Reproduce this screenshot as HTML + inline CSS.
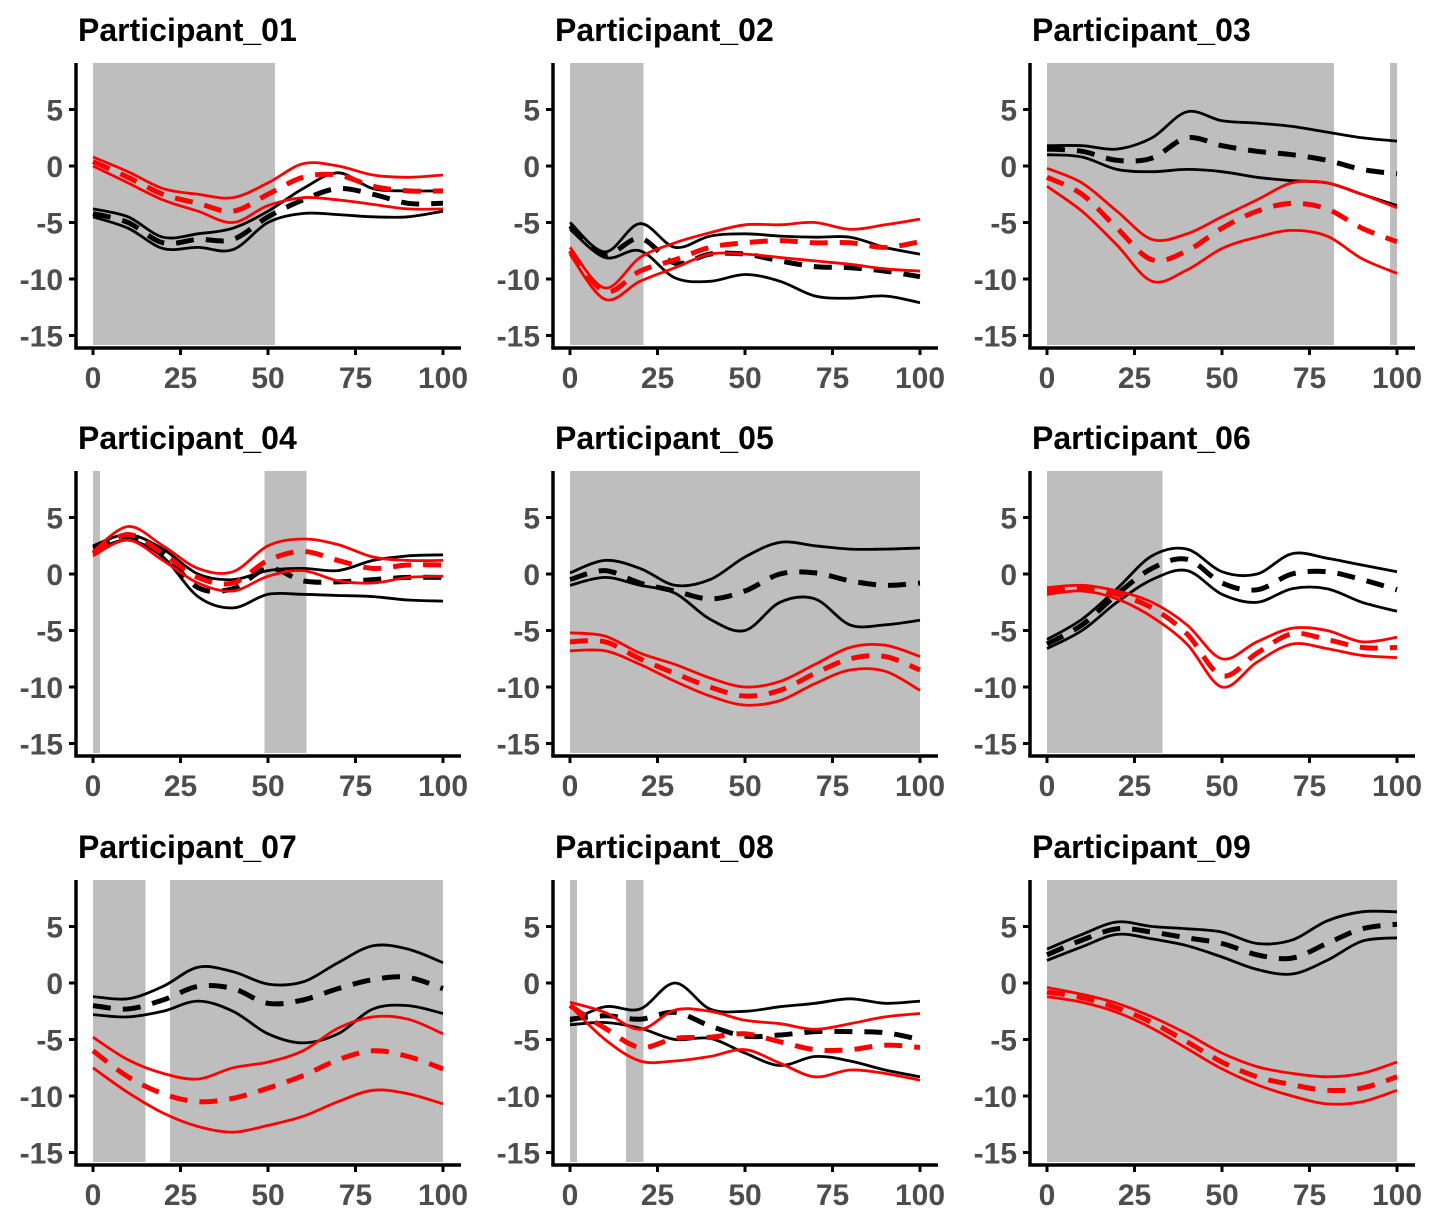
<!DOCTYPE html>
<html><head><meta charset="utf-8">
<style>
html,body{margin:0;padding:0;background:#fff;}
svg text{font-family:"Liberation Sans",Arial,sans-serif;font-weight:bold;}
</style></head>
<body>
<svg id="chart" width="1430" height="1221" viewBox="0 0 1430 1221" xmlns="http://www.w3.org/2000/svg"></svg>
<script>
const xs = [0,10,20,30,40,50,60,70,80,90,100];
const xTicks = [0,25,50,75,100];
const yTicks = [5,0,-5,-10,-15];
const titles = ["Participant_01","Participant_02","Participant_03","Participant_04","Participant_05","Participant_06","Participant_07","Participant_08","Participant_09"];
const shades = [
  [[0,52]],
  [[0,21]],
  [[0,82],[98,100]],
  [[0,2],[49,61]],
  [[0,100]],
  [[0,33]],
  [[0,15],[22,100]],
  [[0,2],[16,21]],
  [[0,100]]
];
const blackUpper = [
  [-3.8,-4.5,-6.3,-6.0,-5.5,-4,-2,-0.6,-2,-2.2,-2.2],
  [-5,-7.6,-5.1,-7.2,-6.2,-6,-6.2,-6.3,-6.3,-7.2,-7.8],
  [1.8,1.8,1.5,2.5,4.8,4,3.8,3.5,3,2.5,2.2],
  [2.5,3.5,2.2,0,-0.5,0.3,0.5,0.3,1.2,1.6,1.7],
  [0.1,1.2,0.5,-1,-0.5,1.5,2.8,2.5,2.2,2.2,2.3],
  [-5.8,-4,-1.3,1.6,2.2,0.2,0,1.8,1.4,0.8,0.2],
  [-1.2,-1.4,-0.3,1.4,1,-0.1,0.1,1.8,3.3,3,1.8],
  [-3.4,-2.1,-2.3,0,-2.3,-2.5,-2.1,-1.8,-1.4,-1.8,-1.6],
  [3,4.3,5.4,5,4.8,4.5,3.5,3.8,5.5,6.3,6.3]
];
const blackMean = [
  [-4.2,-5,-6.8,-6.5,-6.5,-4.5,-3,-2,-2.5,-3.3,-3.3],
  [-5.3,-7.8,-6.4,-8.6,-7.8,-7.8,-8.4,-8.9,-9,-9.3,-9.8],
  [1.5,1.3,0.5,0.7,2.5,1.8,1.3,1,0.5,-0.3,-0.7],
  [2.3,3.3,1.8,-1.2,-1.3,0.5,-0.6,-0.7,-0.5,-0.3,-0.3],
  [-0.5,0.3,-0.8,-1.5,-2.2,-1.5,0,0.1,-0.6,-1,-0.8],
  [-6.2,-4.5,-1.8,0.5,1.3,-0.8,-1.4,0,0.2,-0.5,-1.4],
  [-2,-2.3,-1.5,-0.3,-0.5,-1.8,-1.5,-0.5,0.3,0.5,-0.5],
  [-3.2,-2.9,-3.2,-2.6,-3.8,-4.7,-4.6,-4.3,-4.3,-4.4,-5],
  [2.5,3.8,4.8,4.5,4,3.5,2.5,2.2,3.5,4.8,5.2]
];
const blackLower = [
  [-4.5,-5.5,-7.3,-7.2,-7.4,-5.0,-4.2,-4.3,-4.5,-4.5,-4.0],
  [-5.6,-8.1,-7.5,-9.9,-10.2,-9.6,-10.2,-11.5,-11.7,-11.5,-12.1],
  [1,0.8,-0.3,-0.5,-0.3,-0.5,-1,-1.3,-1.5,-2.5,-3.5],
  [2,3,1.5,-2,-3,-1.8,-1.8,-1.9,-2,-2.3,-2.4],
  [-1,-0.3,-1,-1.7,-4,-5,-2.5,-2.2,-4.5,-4.5,-4.1],
  [-6.6,-5,-2.5,-0.5,0.3,-1.8,-2.5,-1.3,-1.3,-2.5,-3.3],
  [-2.8,-3,-2.5,-1.6,-2.5,-4.5,-5.3,-4.5,-2.3,-2,-2.7],
  [-3.7,-3.5,-4,-5,-4.9,-6.2,-7.3,-6.5,-6.9,-7.7,-8.3],
  [2,3.2,4.3,3.9,3.3,2.3,1.2,0.8,2,3.7,4]
];
const redUpper = [
  [0.8,-0.5,-2,-2.5,-2.8,-1.5,0.2,0,-0.8,-1,-0.8],
  [-7.2,-10.8,-8.1,-6.8,-5.9,-5.2,-5.2,-5,-5.6,-5.2,-4.7],
  [-0.2,-1.5,-4,-6.5,-6,-4.5,-3,-1.5,-1.5,-2.5,-3.7],
  [2,4.2,2.5,0.5,0.2,2.5,3.1,2.6,1.5,1.2,1.2],
  [-5.2,-5.5,-7,-8,-9.2,-10,-9.5,-8,-6.5,-6.3,-7.3],
  [-1.2,-1,-1.5,-2.5,-4.5,-7.5,-6,-4.8,-5,-6,-5.6],
  [-4.8,-6.8,-8,-8.5,-7.5,-7,-6,-4,-3,-3.2,-4.5],
  [-1.7,-2.6,-4.1,-2.4,-2.5,-3.3,-3.6,-4.1,-3.6,-3,-2.7],
  [-0.4,-1,-1.8,-3,-4.5,-6.2,-7.4,-8,-8.3,-8,-7]
];
const redMean = [
  [0.4,-1,-2.5,-3.3,-4,-2.5,-1,-0.8,-1.8,-2.2,-2.2],
  [-7.5,-11.1,-9.3,-8.3,-7.2,-6.8,-6.6,-6.8,-6.8,-7.2,-6.7],
  [-1,-2.5,-5.5,-8.3,-7.5,-5.5,-4,-3.3,-3.8,-5.5,-6.7],
  [1.8,3.5,1.8,-0.3,-0.8,1.2,2,1.2,0.5,0.8,0.8],
  [-6,-6,-7.5,-8.8,-10,-10.8,-10.3,-8.8,-7.5,-7.3,-8.5],
  [-1.5,-1.2,-1.8,-3,-5.3,-9,-7,-5.3,-5.8,-6.5,-6.5],
  [-6,-8.3,-9.8,-10.5,-10.2,-9.3,-8.2,-6.8,-6,-6.5,-7.6],
  [-2,-4,-5.7,-4.9,-4.8,-4.5,-5.2,-5.9,-5.9,-5.5,-5.7],
  [-0.8,-1.3,-2.2,-3.5,-5.2,-7,-8.3,-9,-9.5,-9.3,-8.3]
];
const redLower = [
  [0,-1.5,-3,-4,-5,-3.5,-2.8,-3,-3.4,-3.8,-3.8],
  [-7.8,-11.8,-10.2,-9,-7.8,-7.8,-8.1,-8.4,-8.7,-9.1,-9.3],
  [-1.8,-4,-7,-10.2,-9.2,-7.3,-6.3,-5.7,-6.2,-8.2,-9.5],
  [1.6,3,1.2,-0.8,-1.5,-0.2,0.3,-0.6,-0.8,-0.3,-0.2],
  [-6.8,-6.8,-8,-9.5,-10.8,-11.6,-11.2,-9.7,-8.5,-8.6,-10.3],
  [-1.8,-1.5,-2.2,-3.8,-6.2,-10,-7.8,-6.2,-6.6,-7.2,-7.4],
  [-7.5,-9.7,-11.5,-12.7,-13.2,-12.6,-11.8,-10.5,-9.5,-9.8,-10.7],
  [-2,-5,-6.9,-6.9,-6.5,-5.9,-7.1,-8.3,-7.7,-8,-8.6],
  [-1.2,-1.7,-2.6,-4,-5.8,-7.6,-9,-10,-10.7,-10.5,-9.5]
];

const NS = "http://www.w3.org/2000/svg";
const svg = document.getElementById('chart');
const colX0 = [93,570,1047];
const rowY0 = [166,574,983];
const XS = 3.5, YS = 11.3;
function mk(tag, attrs, parent){
  const e = document.createElementNS(NS, tag);
  for (const k in attrs) e.setAttribute(k, attrs[k]);
  parent.appendChild(e);
  return e;
}
function smoothPath(pts){
  let d = "M" + pts[0][0].toFixed(1) + "," + pts[0][1].toFixed(1);
  for (let i=0;i<pts.length-1;i++){
    const p0 = pts[i-1]||pts[i], p1=pts[i], p2=pts[i+1], p3=pts[i+2]||pts[i+1];
    const c1x = p1[0]+(p2[0]-p0[0])/6, c1y = p1[1]+(p2[1]-p0[1])/6;
    const c2x = p2[0]-(p3[0]-p1[0])/6, c2y = p2[1]-(p3[1]-p1[1])/6;
    d += " C"+c1x.toFixed(1)+","+c1y.toFixed(1)+" "+c2x.toFixed(1)+","+c2y.toFixed(1)+" "+p2[0].toFixed(1)+","+p2[1].toFixed(1);
  }
  return d;
}
for (let p=0;p<9;p++){
  const x0 = colX0[p%3], y0 = rowY0[Math.floor(p/3)];
  const xAt = v => x0 + v*XS;
  const yAt = v => y0 - v*YS;
  const g = mk('g', {}, svg);
  
  
  const top = y0 - 103, bottom = y0 + 179;
  shades[p].forEach((s, si) => {
    const r = mk('rect', {x: xAt(s[0]), y: top, width: xAt(s[1]) - xAt(s[0]), height: bottom - top, fill: '#bebebe'}, g);
    
    
  });
  const series = [
    [blackUpper[p], '#000', false, 'black-upper'],
    [blackLower[p], '#000', false, 'black-lower'],
    [blackMean[p], '#000', true, 'black-mean'],
    [redUpper[p], '#ff0000', false, 'red-upper'],
    [redLower[p], '#ff0000', false, 'red-lower'],
    [redMean[p], '#ff0000', true, 'red-mean']
  ];
  series.forEach(s => {
    const pts = xs.map((xv,i) => [xAt(xv), yAt(s[0][i])]);
    const attrs = {d: smoothPath(pts), fill: 'none', stroke: s[1], 'stroke-width': s[2] ? 5 : 2.8, 'stroke-linejoin': 'round'};
    if (s[2]) attrs['stroke-dasharray'] = '18,12';
    const path = mk('path', attrs, g);
    
    
  });
  const axX = x0 - 17, axBottom = y0 + 182;
  const ya = mk('line', {x1: axX, y1: top, x2: axX, y2: axBottom, stroke: '#000', 'stroke-width': 3.5}, g);
  
  
  const xa = mk('line', {x1: axX - 1.75, y1: axBottom, x2: x0 + 368, y2: axBottom, stroke: '#000', 'stroke-width': 3.5}, g);
  
  
  yTicks.forEach(t => {
    mk('line', {x1: axX - 7, y1: yAt(t), x2: axX, y2: yAt(t), stroke: '#000', 'stroke-width': 3}, g);
    const tx = mk('text', {x: axX - 13, y: yAt(t) + 11, 'text-anchor': 'end', 'font-size': 30, fill: '#4d4d4d'}, g);
    tx.textContent = t;
    
    
  });
  xTicks.forEach(t => {
    mk('line', {x1: xAt(t), y1: axBottom, x2: xAt(t), y2: axBottom + 7, stroke: '#000', 'stroke-width': 3}, g);
    const tx = mk('text', {x: xAt(t), y: axBottom + 40, 'text-anchor': 'middle', 'font-size': 30, fill: '#4d4d4d'}, g);
    tx.textContent = t;
    
    
  });
  const tt = mk('text', {x: x0 - 15, y: y0 - 125, 'font-size': 32, fill: '#000'}, g);
  tt.textContent = titles[p];
  
  
}
</script>
</body></html>
